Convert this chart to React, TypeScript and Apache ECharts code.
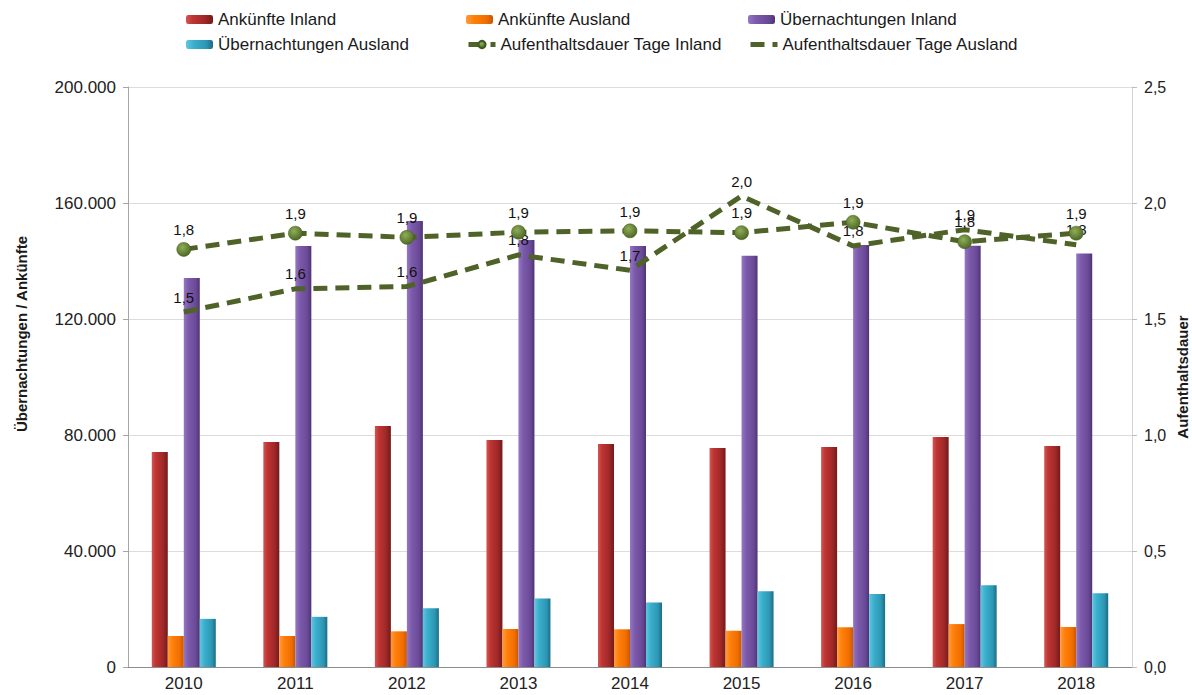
import React, { useEffect, useRef } from "react";
import * as echarts from "echarts";

const categories = ["2010", "2011", "2012", "2013", "2014", "2015", "2016", "2017", "2018"];
const ankuenfteInland = [74100, 77600, 83100, 78300, 76900, 75500, 75900, 79300, 76200];
const ankuenfteAusland = [10700, 10700, 12300, 13100, 13000, 12500, 13700, 14800, 13800];
const uebernachtungenInland = [134100, 145200, 153800, 147200, 145200, 141800, 145500, 145300, 142600];
const uebernachtungenAusland = [16600, 17300, 20300, 23600, 22200, 26100, 25200, 28200, 25400];
const dauerInland = [1.8, 1.87, 1.852, 1.874, 1.88, 1.872, 1.917, 1.833, 1.87];
const dauerAusland = [1.53, 1.63, 1.64, 1.776, 1.71, 2.03, 1.815, 1.885, 1.82];

const FONT = "'Liberation Sans', Arial, sans-serif";
const GREEN = "#4f6228";

function hGrad(stops: [number, string][]) {
  return new echarts.graphic.LinearGradient(
    0, 0, 1, 0,
    stops.map(([offset, color]) => ({ offset, color }))
  );
}

const fmtThousands = (v: number) => String(Math.round(v)).replace(/\B(?=(\d{3})+(?!\d))/g, ".");
const fmtDec = (v: number) => v.toFixed(1).replace(".", ",");

export default function App() {
  const ref = useRef<HTMLDivElement>(null);
  useEffect(() => {
    if (!ref.current) return;
    const chart = echarts.init(ref.current, undefined, { renderer: "svg" });

    const redC = hGrad([[0, "#d45552"], [0.25, "#bd3533"], [0.7, "#a02828"], [1, "#731a1a"]]);
    const orangeC = hGrad([[0, "#ff9a3a"], [0.3, "#ff7f0a"], [0.75, "#f06e00"], [1, "#c85700"]]);
    const purpleC = hGrad([[0, "#9577c2"], [0.3, "#7c5aab"], [0.75, "#6a4a98"], [1, "#4e3472"]]);
    const cyanC = hGrad([[0, "#5fc6e0"], [0.3, "#3aaecb"], [0.75, "#2c97b4"], [1, "#1d6c84"]]);
    const markerC = new echarts.graphic.RadialGradient(0.4, 0.35, 0.7, [
      { offset: 0, color: "#8fae55" },
      { offset: 1, color: "#4a6424" },
    ]);

    const legendItem = (name: string, left: number, top: number) => ({
      data: [name],
      left,
      top,
      padding: 0,
      itemWidth: 27,
      itemHeight: 9,
      lineStyle: { width: 5 },
      textStyle: { fontSize: 17, fontFamily: FONT, color: "#1a1a1a" },
      selectedMode: false,
    });

    const barSeries = (name: string, data: number[], color: any) => ({
      name,
      type: "bar",
      data,
      barWidth: 16,
      barGap: "0%",
      itemStyle: { color },
    });

    chart.setOption({
      animation: false,
      textStyle: { fontFamily: FONT },
      legend: [
        legendItem("Ankünfte Inland", 186, 11),
        legendItem("Ankünfte Ausland", 466, 11),
        legendItem("Übernachtungen Inland", 748, 11),
        legendItem("Übernachtungen Ausland", 186, 36),
        legendItem("Aufenthaltsdauer Tage Inland", 466, 36),
        legendItem("Aufenthaltsdauer Tage Ausland", 748, 36),
      ],
      grid: { left: 128, right: 60, top: 87, bottom: 28, containLabel: false },
      xAxis: {
        type: "category",
        data: categories,
        axisLine: { lineStyle: { color: "#8c8c8c" } },
        axisTick: { show: false },
        axisLabel: { fontSize: 17, color: "#222", margin: 8, fontFamily: FONT },
      },
      yAxis: [
        {
          type: "value",
          min: 0,
          max: 200000,
          interval: 40000,
          axisLine: { show: true, lineStyle: { color: "#a6a6a6" } },
          axisTick: { show: true, length: 5, lineStyle: { color: "#a6a6a6" } },
          axisLabel: { fontSize: 17, color: "#222", margin: 12, formatter: fmtThousands, fontFamily: FONT },
          splitLine: { lineStyle: { color: "#dcdcdc" } },
        },
        {
          type: "value",
          min: 0,
          max: 2.5,
          interval: 0.5,
          position: "right",
          axisLine: { show: true, lineStyle: { color: "#d4d4d4" } },
          axisTick: { show: true, length: 5, lineStyle: { color: "#bdbdbd" } },
          axisLabel: { fontSize: 16, color: "#222", margin: 12, formatter: fmtDec, fontFamily: FONT },
          splitLine: { show: false },
        },
      ],
      graphic: [
        {
          type: "text",
          x: 21,
          y: 334,
          rotation: Math.PI / 2,
          style: {
            text: "Übernachtungen / Ankünfte",
            fontSize: 15,
            fontWeight: "bold",
            fontFamily: FONT,
            fill: "#1a1a1a",
            textAlign: "center",
            textVerticalAlign: "middle",
          },
        },
        {
          type: "text",
          x: 1182,
          y: 377,
          rotation: Math.PI / 2,
          style: {
            text: "Aufenthaltsdauer",
            fontSize: 15,
            fontWeight: "bold",
            fontFamily: FONT,
            fill: "#1a1a1a",
            textAlign: "center",
            textVerticalAlign: "middle",
          },
        },
      ],
      series: [
        barSeries("Ankünfte Inland", ankuenfteInland, redC),
        barSeries("Ankünfte Ausland", ankuenfteAusland, orangeC),
        barSeries("Übernachtungen Inland", uebernachtungenInland, purpleC),
        barSeries("Übernachtungen Ausland", uebernachtungenAusland, cyanC),
        {
          name: "Aufenthaltsdauer Tage Inland",
          type: "line",
          yAxisIndex: 1,
          data: dauerInland,
          symbol: "circle",
          symbolSize: 14,
          itemStyle: { color: markerC, borderColor: "#3f5a1e", borderWidth: 0.5 },
          lineStyle: { color: GREEN, width: 5, type: [14, 8] },
          label: {
            show: true,
            position: "top",
            distance: 5,
            fontSize: 15,
            color: "#111",
            fontFamily: FONT,
            formatter: (p: any) => fmtDec(p.value),
          },
          z: 5,
        },
        {
          name: "Aufenthaltsdauer Tage Ausland",
          type: "line",
          yAxisIndex: 1,
          data: dauerAusland,
          symbol: "circle",
          symbolSize: 1,
          itemStyle: { color: "rgba(0,0,0,0)" },
          lineStyle: { color: GREEN, width: 5, type: [14, 8] },
          label: {
            show: true,
            position: "top",
            distance: 7,
            fontSize: 15,
            color: "#111",
            fontFamily: FONT,
            formatter: (p: any) => fmtDec(p.value),
          },
          z: 4,
        },
      ],
    });

    return () => chart.dispose();
  }, []);

  return (
    <div
      ref={ref}
      style={{ position: "fixed", left: 0, top: 0, width: 1192, height: 695, background: "#fff" }}
    />
  );
}
